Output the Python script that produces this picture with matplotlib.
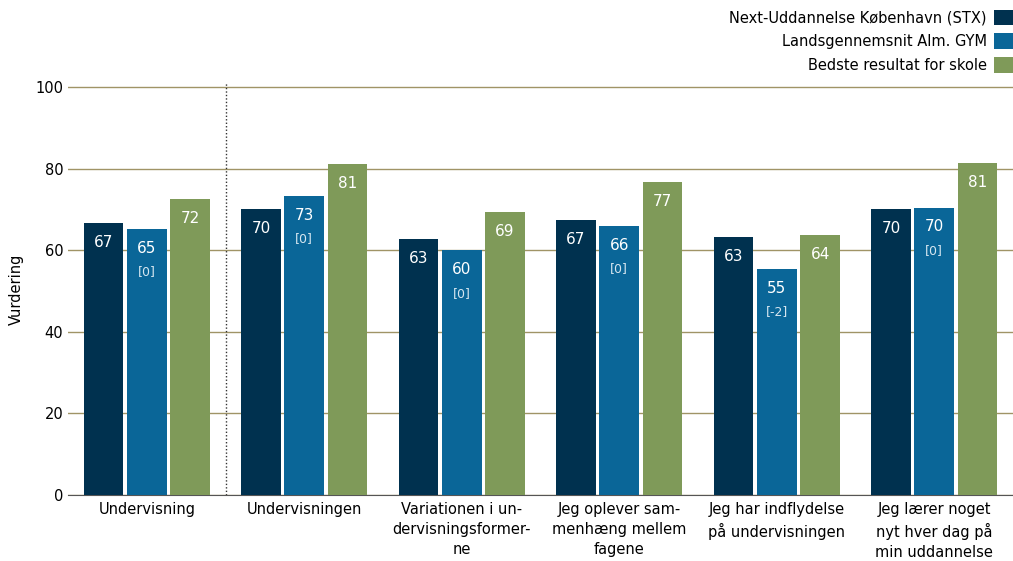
import numpy as np
import matplotlib.pyplot as plt

# data
categories = ['Undervisning', 'Undervisningen', 'Variationen i un-\ndervisningsformer-\nne',
              'Jeg oplever sam-\nmenhæng mellem\nfagene', 'Jeg har indflydelse\npå undervisningen',
              'Jeg lærer noget\nnyt hver dag på\nmin uddannelse']
school = [66.7, 70.1, 62.7, 67.4, 63.2, 70.1]
national = [65.2, 73.3, 60.0, 65.9, 55.4, 70.4]
best = [72.5, 81.1, 69.4, 76.7, 63.7, 81.4]
national_change = ['[0]', '[0]', '[0]', '[0]', '[-2]', '[0]']
series_names = ['Next-Uddannelse København (STX)', 'Landsgennemsnit Alm. GYM', 'Bedste resultat for skole']
colors = ['#00314F', '#0A6698', '#7F9A59']

plt.rcParams['font.family'] = ['DejaVu Sans']

fig = plt.figure(figsize=(10.13, 5.61), dpi=100)
ax = fig.add_axes([68 / 1013, 66 / 561, 1 - 68 / 1013, (495 - 83) / 561])

x = np.arange(len(categories))
w = 0.253
step = 0.275
all_series = [school, national, best]
for i, vals in enumerate(all_series):
    bars = ax.bar(x + (i - 1) * step, vals, width=w, color=colors[i], label=series_names[i], zorder=3)
    for j, v in enumerate(vals):
        ax.text(x[j] + (i - 1) * step, v - 4.7, f'{round(v):d}', color='white',
                ha='center', va='center', fontsize=11, zorder=4)
        if i == 1:
            ax.text(x[j], v - 10.5, national_change[j], color='#d6e6f0',
                    ha='center', va='center', fontsize=9, zorder=4)

ax.set_xlim(-0.5, len(categories) - 0.5)
ax.set_ylim(0, 101)
ax.set_yticks([0, 20, 40, 60, 80, 100])
ax.yaxis.grid(True, color='#A09466', linewidth=1, zorder=0)
ax.set_xticks(x)
ax.set_xticklabels(categories, fontsize=10, linespacing=1.42)
ax.tick_params(axis='both', length=0, labelsize=10.5, colors='black')
ax.tick_params(axis='x', pad=5)
ax.set_ylabel('Vurdering', fontsize=10.5, labelpad=8)
for s in ['top', 'right', 'left']:
    ax.spines[s].set_visible(False)
ax.spines['bottom'].set_color('#555555')

# dotted separator
ax.axvline(0.5, color='#333333', linestyle=(0, (1, 1.5)), linewidth=1, zorder=2)

leg = fig.legend(loc='upper right', bbox_to_anchor=(1.0, 0.983), frameon=False, markerfirst=False,
                 handlelength=1.3, handleheight=1.3, handletextpad=0.5, labelspacing=0.55,
                 borderaxespad=0, borderpad=0, fontsize=10.5)

fig.savefig('out.png', dpi=100)
